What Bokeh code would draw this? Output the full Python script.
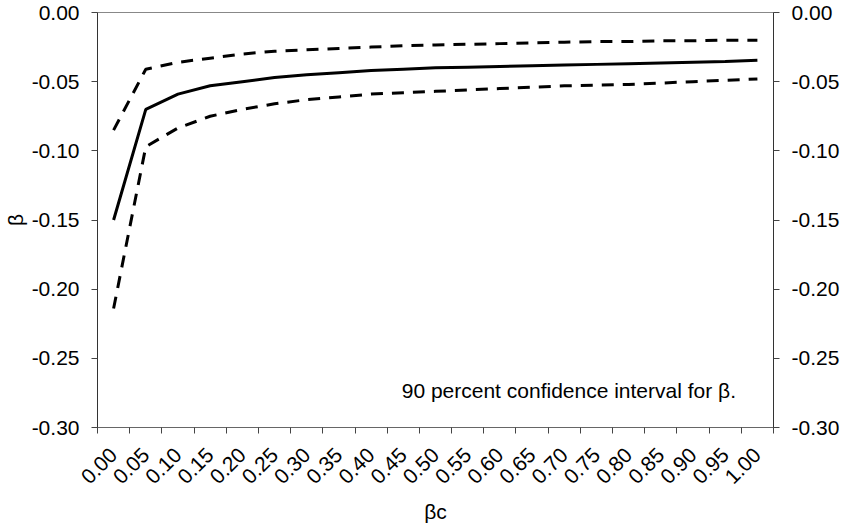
import math
from bokeh.plotting import figure
from bokeh.models import LinearAxis, FixedTicker, NumeralTickFormatter, Label, Range1d
from bokeh.embed import file_html
from bokeh.resources import INLINE

categories = ["0.00", "0.05", "0.10", "0.15", "0.20", "0.25", "0.30", "0.35", "0.40", "0.45",
              "0.50", "0.55", "0.60", "0.65", "0.70", "0.75", "0.80", "0.85", "0.90", "0.95", "1.00"]

beta_mid = [-0.150, -0.070, -0.059, -0.053, -0.050, -0.047, -0.045, -0.0435, -0.042, -0.041,
            -0.040, -0.0395, -0.039, -0.0385, -0.038, -0.0375, -0.037, -0.0365, -0.036, -0.0355, -0.0345]
beta_upper = [-0.085, -0.041, -0.036, -0.033, -0.030, -0.028, -0.027, -0.026, -0.025, -0.024,
              -0.0235, -0.023, -0.0225, -0.022, -0.0215, -0.021, -0.021, -0.0205, -0.0205, -0.020, -0.020]
beta_lower = [-0.214, -0.097, -0.0835, -0.075, -0.070, -0.066, -0.063, -0.061, -0.059, -0.058,
              -0.057, -0.056, -0.055, -0.054, -0.053, -0.0525, -0.052, -0.051, -0.050, -0.049, -0.048]

y_ticks = [-0.30, -0.25, -0.20, -0.15, -0.10, -0.05, 0.00]

FONT = "Liberation Sans"
FS = "21px"

x_idx = list(range(len(categories)))

p = figure(width=842, height=526, x_range=Range1d(-0.5, len(categories) - 0.5),
           y_range=Range1d(-0.30, 0.0), output_backend="svg", toolbar_location=None,
           min_border_left=90, min_border_right=62, min_border_top=12, min_border_bottom=91)

p.xgrid.visible = False
p.ygrid.visible = False
p.outline_line_color = "#888888"
p.background_fill_color = "white"
p.border_fill_color = "white"

p.line(x_idx, beta_mid, line_color="black", line_width=3)
p.line(x_idx, beta_upper, line_color="black", line_width=3, line_dash="12 9")
p.line(x_idx, beta_lower, line_color="black", line_width=3, line_dash="12 9")

# x axis
xa = p.xaxis[0]
xa.ticker = FixedTicker(ticks=x_idx, minor_ticks=[i - 0.5 for i in range(len(categories) + 1)])
xa.major_label_overrides = {i: c for i, c in enumerate(categories)}
xa.major_tick_out = 0
xa.major_tick_in = 0
xa.minor_tick_out = 6
xa.minor_tick_in = 0
xa.minor_tick_line_color = "#444444"
xa.axis_line_color = "#666666"
xa.major_label_orientation = math.pi / 4
xa.major_label_standoff = 18
xa.major_label_text_font = FONT
xa.major_label_text_font_size = FS
xa.major_label_text_color = "black"
xa.axis_label = "βc"
xa.axis_label_text_font = FONT
xa.axis_label_text_font_size = FS
xa.axis_label_text_font_style = "normal"
xa.axis_label_text_color = "black"
xa.axis_label_standoff = 7

fmt = NumeralTickFormatter(format="0.00")

ya = p.yaxis[0]
ya.ticker = FixedTicker(ticks=y_ticks)
ya.formatter = fmt
ya.major_tick_out = 6
ya.major_tick_in = 0
ya.minor_tick_out = 0
ya.minor_tick_in = 0
ya.axis_line_color = "#333333"
ya.major_tick_line_color = "#444444"
ya.major_label_standoff = 12
ya.major_label_text_font = FONT
ya.major_label_text_font_size = FS
ya.major_label_text_color = "black"
ya.axis_label = "β"
ya.axis_label_text_font = FONT
ya.axis_label_text_font_size = FS
ya.axis_label_text_font_style = "normal"
ya.axis_label_text_color = "black"
ya.axis_label_standoff = 2

ra = LinearAxis(ticker=FixedTicker(ticks=y_ticks), formatter=NumeralTickFormatter(format="0.00"))
ra.major_tick_out = 6
ra.major_tick_in = 0
ra.minor_tick_out = 0
ra.minor_tick_in = 0
ra.axis_line_color = "#333333"
ra.major_tick_line_color = "#444444"
ra.major_label_standoff = 12
ra.major_label_text_font = FONT
ra.major_label_text_font_size = FS
ra.major_label_text_color = "black"
p.add_layout(ra, "right")

note = Label(x=8.95, y=-0.2734, text="90 percent confidence interval for β.",
             text_font=FONT, text_font_size=FS, text_color="black",
             text_baseline="alphabetic", text_align="left")
p.add_layout(note)

open("out.html", "w").write(file_html(p, INLINE))
